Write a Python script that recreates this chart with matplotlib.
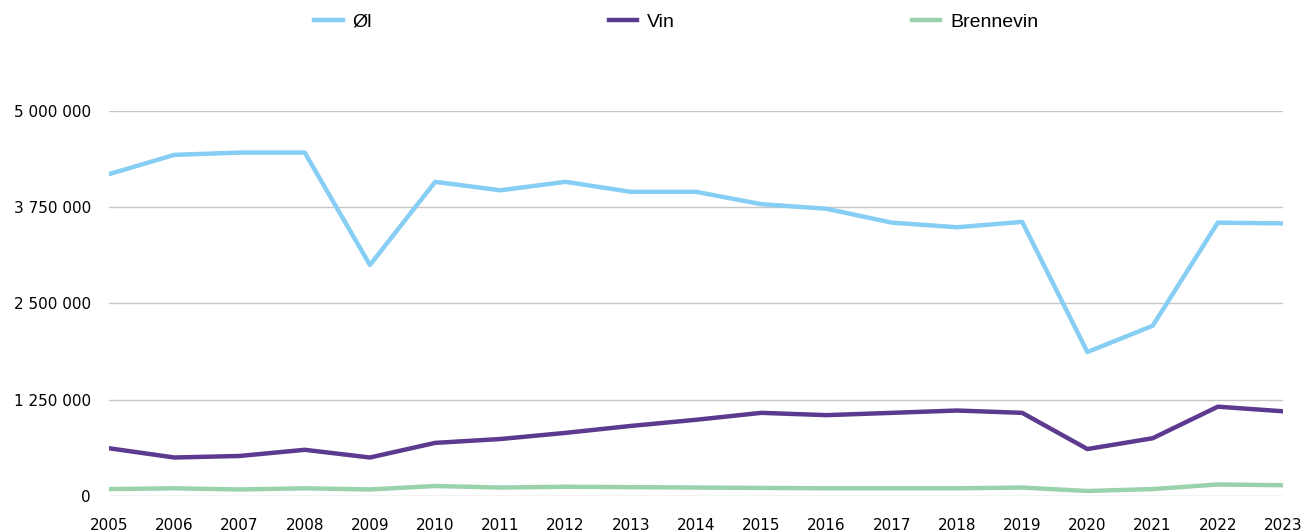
import matplotlib
matplotlib.use("Agg")
import matplotlib.pyplot as plt
from matplotlib.ticker import FuncFormatter

years = list(range(2005, 2024))
ol = [4180000, 4430000, 4460000, 4460000, 3000000, 4080000, 3970000, 4080000, 3950000, 3950000,
      3790000, 3730000, 3550000, 3490000, 3560000, 1870000, 2210000, 3550000, 3540000]
vin = [620000, 500000, 520000, 600000, 500000, 690000, 740000, 820000, 910000, 990000,
       1080000, 1050000, 1080000, 1110000, 1080000, 610000, 750000, 1160000, 1100000]
brennevin = [90000, 100000, 85000, 100000, 85000, 130000, 110000, 120000, 115000, 110000,
             105000, 100000, 100000, 100000, 110000, 65000, 90000, 150000, 140000]
y_ticks = [0, 1250000, 2500000, 3750000, 5000000]

plt.rcParams["font.family"] = ["DejaVu Sans"]

fig = plt.figure(figsize=(13.03, 5.31), dpi=100)
ax = fig.add_axes([0.0837, 0.0659, 0.901, 0.7251])

ax.plot(years, ol, color="#86cef3", lw=3.2, label="Øl")
ax.plot(years, vin, color="#5c3a8f", lw=3.2, label="Vin")
ax.plot(years, brennevin, color="#9ad2ae", lw=3.2, label="Brennevin")

ax.set_xlim(2005, 2023)
ax.set_ylim(0, 5000000)
ax.set_yticks(y_ticks)
ax.set_xticks(years)
ax.yaxis.set_major_formatter(FuncFormatter(lambda v, p: f"{int(v):,}".replace(",", " ")))
ax.grid(axis="y", color="#c6c6c6", lw=1)
ax.set_axisbelow(True)
for s in ax.spines.values():
    s.set_visible(False)
ax.tick_params(axis="y", length=0, pad=13, labelsize=11)
ax.tick_params(axis="x", length=0, pad=16, labelsize=11)

leg = fig.legend(loc="center", bbox_to_anchor=(0.519, 0.959), ncol=3, frameon=False,
                 handlelength=1.45, handletextpad=0.5, columnspacing=12.2,
                 prop={"family": ["Liberation Sans", "DejaVu Sans"], "size": 14})

fig.savefig("out.png", dpi=100)
